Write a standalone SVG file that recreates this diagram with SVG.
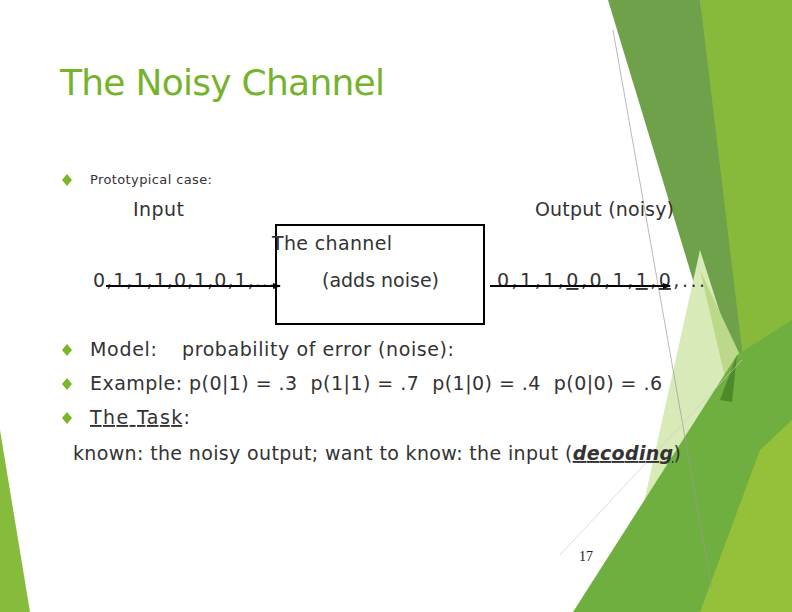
<svg xmlns="http://www.w3.org/2000/svg" width="792" height="612" viewBox="0 0 792 612">
<defs>
<style>
.t{font-family:"DejaVu Sans",sans-serif;fill:#333;font-size:19px}
.b{fill:#7ab52a}
</style>
<marker id="ah" markerWidth="8" markerHeight="8" refX="7" refY="4" orient="auto" markerUnits="userSpaceOnUse"><path d="M0,1 L8,4 L0,7z" fill="#000"/></marker>
</defs>
<rect width="792" height="612" fill="#fff"/>
<g id="decor">
<polygon points="700,0 792,0 792,612 735,612" fill="#87b93a"/>
<polygon points="608,0 700,0 742,350 730,402" fill="#6fa04a"/>
<polygon points="640,520 700,250 735,360 737,420" fill="#d9eab9"/>
<polygon points="700,270 740,355 735,420" fill="#bcd98a"/>
<polygon points="573,612 737,355 792,320 792,612" fill="#6faf3f"/>
<polygon points="720,400 737,355 732,402" fill="#4f8a2a"/>
<polygon points="700,612 760,450 792,420 792,612" fill="#95c13a"/>
<polygon points="0,430 30,612 0,612" fill="#86bb3c"/>
<line x1="613" y1="30" x2="712" y2="590" stroke="#9a9a9a" stroke-width="0.7"/>
<line x1="560" y1="555" x2="742" y2="360" stroke="#cfcfcf" stroke-width="0.7"/>
</g>
<text x="60" y="95" font-family="DejaVu Sans,sans-serif" font-size="36" fill="#76b32c" textLength="325">The Noisy Channel</text>
<g id="bullets" class="b">
<polygon points="67,174 72,180 67,186 62,180"/>
<polygon points="67,344 72,350 67,356 62,350"/>
<polygon points="67,378 72,384 67,390 62,384"/>
<polygon points="67,412 72,418 67,424 62,418"/>
</g>
<text class="t" x="90" y="184" style="font-size:13px" textLength="122">Prototypical case:</text>
<text class="t" x="133" y="216" textLength="51">Input</text>
<text class="t" x="535" y="216" textLength="139">Output (noisy)</text>
<g id="channel">
<rect x="276" y="225" width="208" height="99" fill="#fff" stroke="#000" stroke-width="2"/>
<text class="t" x="272" y="250" textLength="120">The channel</text>
<text class="t" x="322" y="287" textLength="117">(adds noise)</text>
</g>
<text class="t" x="93" y="287" textLength="182">0,1,1,1,0,1,0,1,...</text>
<text class="t" x="497" y="287" textLength="208">0,1,1,<tspan text-decoration="underline">0</tspan>,0,1,<tspan text-decoration="underline">1</tspan>,<tspan text-decoration="underline">0</tspan>,...</text>
<g id="connectors" stroke="#000" stroke-width="2" fill="none">
<line x1="106" y1="286" x2="280" y2="286" marker-end="url(#ah)"/>
<line x1="490" y1="286" x2="670" y2="286" marker-end="url(#ah)"/>
</g>
<text class="t" x="90" y="356" textLength="67">Model:</text>
<text class="t" x="182" y="356" textLength="272">probability of error (noise):</text>
<text class="t" x="90" y="390" textLength="572" xml:space="preserve">Example: p(0|1) = .3  p(1|1) = .7  p(1|0) = .4  p(0|0) = .6</text>
<text class="t" x="90" y="424" textLength="100"><tspan text-decoration="underline">The Task</tspan>:</text>
<text class="t" x="73" y="460" textLength="608">known: the noisy output; want to know: the input (<tspan font-weight="bold" font-style="italic" text-decoration="underline">decoding</tspan>)</text>
<text x="579" y="561" font-family="Liberation Serif,serif" font-size="14" fill="#222">17</text>
</svg>
